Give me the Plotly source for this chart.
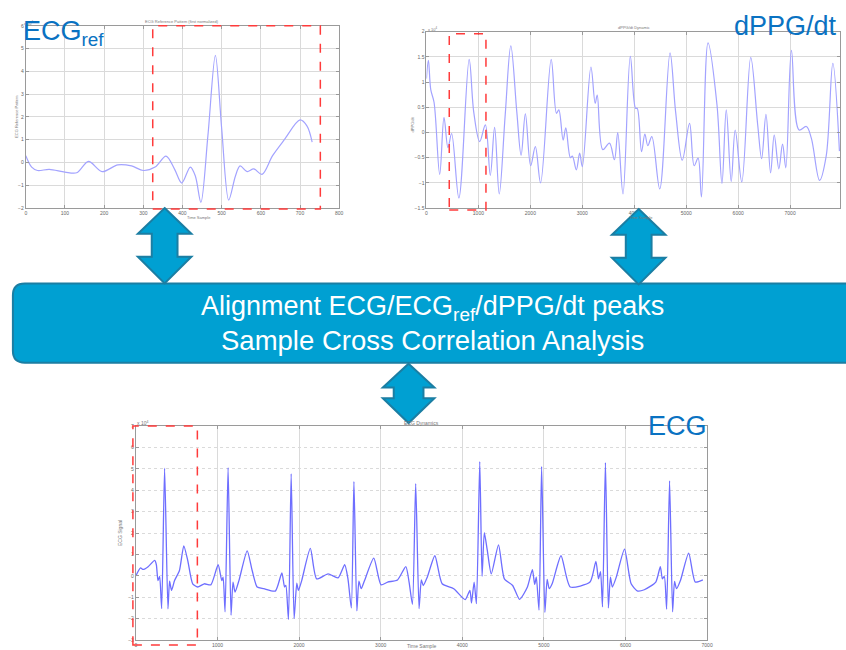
import plotly.graph_objects as go

W, H = 846, 650

# ---- ECG reference pattern (one beat, x10^4) ----
ref_x = [0, 15, 30, 60, 100, 130, 160, 195, 235, 270, 300, 330, 358, 380, 398,
         420, 433, 447, 465, 484, 500, 518, 535, 547, 565, 582, 603, 630, 660,
         700, 718, 731]
ref_y = [0.3, -0.2, -0.35, -0.3, -0.42, -0.45, 0.05, -0.4, -0.1, -0.15, -0.35,
         -0.2, 0.28, -0.3, -0.9, -0.2, -0.6, -1.75, 1.2, 4.7, 1.5, -1.65, -0.6,
         -0.15, -0.4, -0.28, -0.52, 0.3, 1.0, 1.87, 1.6, 0.9]

# ---- dPPG/dt dynamic (x10^4) ----
ppg_x = [0, 38, 83, 146, 255, 338, 414, 484, 624, 822, 911, 1025, 1134, 1229,
         1312, 1401, 1516, 1624, 1739, 1822, 1904, 2006, 2096, 2197, 2401, 2503,
         2548, 2631, 2682, 2771, 2809, 2885, 2949, 3000, 3166, 3248, 3287, 3395,
         3522, 3618, 3682, 3783, 3924, 4025, 4057, 4140, 4204, 4261, 4338, 4490,
         4688, 4796, 4924, 5064, 5153, 5229, 5293, 5420, 5592, 5688, 5771, 5866,
         5943, 6070, 6242, 6376, 6452, 6535, 6624, 6694, 6783, 6854, 6917, 7025,
         7172, 7312, 7408, 7567, 7694, 7822, 7949]
ppg_y = [1.07, 1.43, 0.85, 0.6, -0.83, 0.3, -0.3, -0.02, -1.3, 1.45, 0.4, -0.18,
         0.15, -0.85, 0.1, -1.22, 0.35, 1.72, 0.41, -0.45, 0.37, -0.66, -0.28,
         -1.0, 1.45, 0.38, 0.45, -0.15, 0.09, -0.5, -0.47, -0.74, -0.41, -0.68,
         1.3, 0.58, 0.74, -0.34, -0.21, -0.54, 0.0, -1.22, 1.51, 0.48, 0.48,
         -0.38, -0.03, -0.26, -0.08, -1.12, 1.58, 0.41, -0.55, 0.18, -0.66,
         -0.51, -1.28, 1.78, 0.55, -1.01, 0.45, -0.97, 0.05, -0.98, 1.49, 0.15,
         -0.52, 0.36, -0.8, -0.05, -0.72, -0.23, -0.7, 1.63, 0.05, 0.12, -0.11,
         -0.95, -0.47, 1.37, -0.37]

# ---- ECG dynamics (x10^4) ----
ecg_x = [0, 57, 89, 150, 231, 251, 271, 291, 316, 352, 393, 413, 437, 474, 534,
         587, 636, 696, 757, 838, 919, 1008, 1053, 1069, 1093, 1130, 1166, 1190,
         1215, 1263, 1364, 1425, 1486, 1567, 1709, 1789, 1822, 1838, 1870, 1903,
         1939, 1972, 1992, 2032, 2138, 2215, 2356, 2478, 2559, 2599, 2640, 2672,
         2708, 2733, 2761, 2802, 2915, 3004, 3085, 3206, 3308, 3348, 3389, 3429,
         3470, 3498, 3522, 3571, 3664, 3753, 3895, 4036, 4093, 4113, 4145, 4173,
         4214, 4242, 4270, 4306, 4355, 4444, 4516, 4617, 4702, 4798, 4859, 4887,
         4907, 4940, 4972, 5012, 5040, 5065, 5101, 5210, 5323, 5565, 5637, 5669,
         5694, 5718, 5754, 5790, 5815, 5839, 5887, 5988, 6069, 6149, 6230, 6371,
         6427, 6452, 6476, 6504, 6540, 6577, 6601, 6625, 6673, 6774, 6855, 6948]
ecg_y = [0.0, 0.37, 0.3, 0.43, 0.72, 0.52, -0.22, -0.03, -1.53, 5.03, -1.54,
         -0.25, -0.68, -0.22, 0.25, 1.4, 0.71, -0.37, -0.52, -0.37, -0.42, 0.52,
         -0.22, -0.06, -1.68, 5.06, -1.84, -0.29, -0.76, -0.22, 1.17, 0.25,
         -0.52, -0.6, -0.71, 0.14, -0.52, -0.45, -2.04, 4.77, -1.99, -0.34,
         -0.68, -0.22, 1.28, -0.14, 0.09, -0.09, 0.52, -0.14, -1.5, 4.41, -1.64,
         -0.25, -0.6, -0.22, 0.83, -0.42, -0.29, -0.19, 0.43, -0.29, -1.33, 4.31,
         -1.53, -0.19, -0.45, -0.06, 0.94, -0.37, -0.6, -1.11, -0.68, -1.27,
         -0.29, -1.3, 5.34, -0.02, 2.02, 1.2, 0.09, 1.45, -0.14, -0.45, -1.1,
         -0.52, 0.29, -0.4, -0.06, -1.6, 5.11, -1.71, -0.17, -0.6, -0.37, 0.94,
         -0.52, -0.29, 0.68, -0.14, 0.2, -1.45, 5.29, -1.5, -0.06, -0.52, -0.06,
         1.25, -0.37, -0.71, -0.65, -0.29, 0.43, -0.14, -0.03, -1.56, 4.44,
         -1.68, -0.26, -0.6, -0.22, 1.06, -0.29, -0.19]

ref_ticks = list(range(0, 801, 100))
ppg_ticks = list(range(0, 8001, 1000))
ecg_ticks = list(range(0, 7001, 1000))

BLUE = "#00A0D2"
EDGE = "#1B7EA3"
LABEL_BLUE = "#0A72C2"


def px(x):
    return x / W


def py(y):
    return 1 - y / H


fig = go.Figure()
fig.add_trace(go.Scatter(x=ref_x, y=ref_y, mode="lines", xaxis="x", yaxis="y",
                         line=dict(color="#A3A3FF", width=1.2, shape="spline", smoothing=0.9)))
fig.add_trace(go.Scatter(x=ppg_x, y=ppg_y, mode="lines", xaxis="x2", yaxis="y2",
                         line=dict(color="#A3A3FF", width=1.2, shape="spline", smoothing=1.0)))
fig.add_trace(go.Scatter(x=ecg_x, y=ecg_y, mode="lines", xaxis="x3", yaxis="y3",
                         line=dict(color="#6E6EFF", width=1.3, shape="spline", smoothing=0.6)))

tickfont = dict(family="Liberation Sans", size=5, color="#666")


def axis(domain, rng, tickvals, anchor, griddash="solid"):
    return dict(domain=domain, range=rng, tickvals=tickvals, anchor=anchor,
                showgrid=True, gridcolor="#DADADA", gridwidth=1, griddash=griddash,
                zeroline=False, showline=True, linecolor="#9A9A9A", linewidth=1,
                mirror="ticks", ticks="inside", ticklen=3, tickcolor="#9A9A9A",
                tickfont=tickfont, fixedrange=True)


fig.update_layout(
    width=W, height=H, margin=dict(l=0, r=0, t=0, b=0, pad=0),
    paper_bgcolor="white", plot_bgcolor="white", showlegend=False,
    xaxis=axis([px(25), px(341)], [0, 800], ref_ticks, "y"),
    yaxis=axis([py(207), py(23)], [-2, 6], list(range(-2, 7)), "x"),
    xaxis2=axis([px(429), 1.0], [0, 7960], ppg_ticks, "y2"),
    yaxis2=axis([py(207), py(29)], [-1.5, 2], [-1.5, -1, -0.5, 0, 0.5, 1, 1.5, 2], "x2"),
    xaxis3=axis([px(136), px(712)], [0, 7000], ecg_ticks, "y3"),
    yaxis3=axis([py(643), py(427)], [-3, 7], list(range(-3, 8)), "x3", griddash="dot"),
)

shapes = []

# red dashed highlight windows
for x0, y0, x1, y1 in [(153, 23, 322, 208), (452, 31, 489, 209), (133, 427, 198, 648)]:
    shapes.append(dict(type="rect", xref="paper", yref="paper",
                       x0=px(x0), x1=px(x1), y0=py(y1), y1=py(y0),
                       line=dict(color="#FF3B3B", width=1.5, dash="dash"),
                       fillcolor="rgba(0,0,0,0)"))

# central rounded box
bx0, by0, bx1, by1, r = 12, 283, 860, 363, 12
path = (f"M {px(bx0 + r)},{py(by0)} L {px(bx1)},{py(by0)} L {px(bx1)},{py(by1)} "
        f"L {px(bx0 + r)},{py(by1)} Q {px(bx0)},{py(by1)} {px(bx0)},{py(by1 - r)} "
        f"L {px(bx0)},{py(by0 + r)} Q {px(bx0)},{py(by0)} {px(bx0 + r)},{py(by0)} Z")
shapes.append(dict(type="path", xref="paper", yref="paper", path=path,
                   fillcolor=BLUE, line=dict(color=EDGE, width=2)))


def double_arrow(cx, top, bot, hw, sw, hh_top, hh_bot):
    pts = [(cx, top), (cx + hw, top + hh_top), (cx + sw, top + hh_top),
           (cx + sw, bot - hh_bot), (cx + hw, bot - hh_bot), (cx, bot),
           (cx - hw, bot - hh_bot), (cx - sw, bot - hh_bot), (cx - sw, top + hh_top),
           (cx - hw, top + hh_top)]
    d = "M " + " L ".join(f"{px(a)},{py(b)}" for a, b in pts) + " Z"
    return dict(type="path", xref="paper", yref="paper", path=d,
                fillcolor=BLUE, line=dict(color=EDGE, width=2))


shapes.append(double_arrow(165, 207, 283, 27, 13, 26, 27))
shapes.append(double_arrow(643, 208, 284, 27, 13, 26, 27))
shapes.append(double_arrow(411, 364, 424, 26, 15, 24, 25))

fig.update_layout(shapes=shapes)

ann = []


def note(x, y, text, size=None, color=None, xanchor="center", yanchor="middle",
         angle=0, family="Liberation Sans"):
    f = dict(family=family, size=size or 5, color=color or "#777")
    ann.append(dict(x=px(x), y=py(y), xref="paper", yref="paper", text=text,
                    showarrow=False, xanchor=xanchor, yanchor=yanchor,
                    textangle=angle, font=f))


# small axis titles and labels
note(183, 19, "ECG Reference Pattern (first normalized)", size=4)
note(200, 217, "Time Sample", size=4)
note(16, 115, "ECG Reference Pattern", size=4, angle=-90)
note(28, 20, "x 10<sup>4</sup>", size=4)
note(638, 25, "dPPG/dt Dynamic", size=4)
note(645, 217, "Time Sample", size=4)
note(415, 123, "dPPG/dt", size=4, angle=-90)
note(436, 26, "x 10<sup>4</sup>", size=4)
note(424, 424, "ECG Dynamics", size=5)
note(424, 649, "Time Sample", size=5)
note(120, 535, "ECG Signal", size=5, angle=-90)
note(143, 424, "x 10<sup>4</sup>", size=5)

# big blue panel labels
note(20, 30, "ECG<sub>ref</sub>", size=27, color=LABEL_BLUE, xanchor="left")
note(845, 23, "dPPG/dt", size=27, color=LABEL_BLUE, xanchor="right")
note(714, 427, "ECG", size=27, color=LABEL_BLUE, xanchor="right")

# central box text
note(435, 308, "Alignment ECG/ECG<sub>ref</sub>/dPPG/dt peaks", size=27, color="white")
note(435, 341, "Sample Cross Correlation Analysis", size=27.5, color="white")

fig.update_layout(annotations=ann)

fig.write_html("out.html")
